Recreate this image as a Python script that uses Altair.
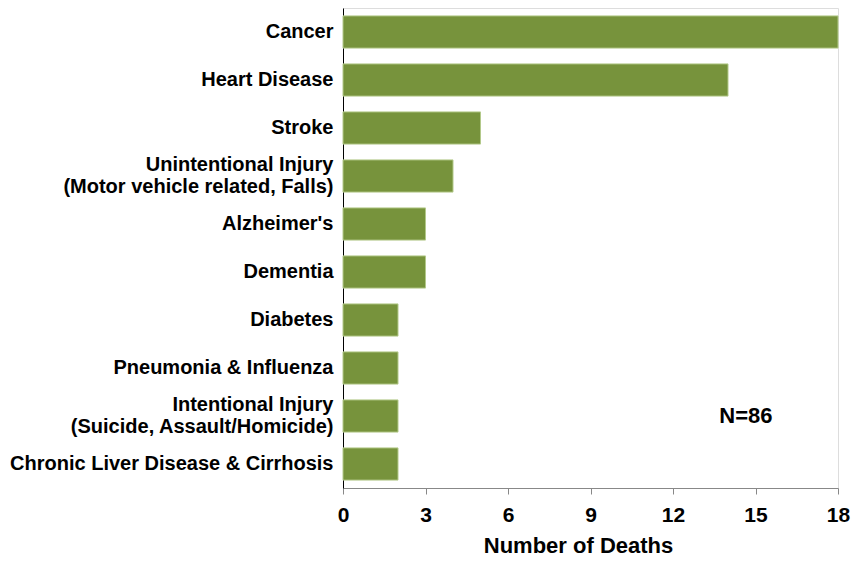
import altair as alt
import pandas as pd

causes = [
    "Cancer",
    "Heart Disease",
    "Stroke",
    "Unintentional Injury|(Motor vehicle related, Falls)",
    "Alzheimer's",
    "Dementia",
    "Diabetes",
    "Pneumonia & Influenza",
    "Intentional Injury|(Suicide, Assault/Homicide)",
    "Chronic Liver Disease & Cirrhosis",
]
deaths = [18, 14, 5, 4, 3, 3, 2, 2, 2, 2]
x_ticks = [0, 3, 6, 9, 12, 15, 18]
note_text = "N=86"
note_x = 14.65
note_cause = causes[8]

df = pd.DataFrame({"cause": causes, "deaths": deaths})
note_df = pd.DataFrame({"cause": [note_cause], "x": [note_x], "label": [note_text]})

FONT = "Liberation Sans"

y_enc = alt.Y(
    "cause:N",
    sort=causes,
    scale=alt.Scale(paddingInner=0.33, paddingOuter=0.165),
    axis=alt.Axis(
        title=None,
        ticks=False,
        domainColor="black",
        domainWidth=1,
        labelFont=FONT,
        labelFontSize=20,
        labelFontWeight="bold",
        labelColor="black",
        labelPadding=10,
        labelLineHeight=22,
        labelLimit=400,
        labelExpr="split(datum.label, '|')",
        labelOffset={"condition": {"test": "indexof(datum.value, '|') >= 0", "value": -11}, "value": 0},
    ),
)

bars = alt.Chart(df).mark_bar(color="#77933C", stroke="#B3C98A", strokeWidth=1).encode(
    x=alt.X(
        "deaths:Q",
        scale=alt.Scale(domain=[0, 18], nice=False),
        axis=alt.Axis(
            title="Number of Deaths",
            values=x_ticks,
            grid=False,
            domainColor="#888888",
            tickColor="#888888",
            tickSize=6,
            labelFlush=False,
            labelFont=FONT,
            labelFontSize=21,
            labelFontWeight="bold",
            labelColor="black",
            labelPadding=10,
            titleFont=FONT,
            titleFontSize=22,
            titleFontWeight="bold",
            titleColor="black",
            titlePadding=10,
            titleX=235,
        ),
    ),
    y=y_enc,
)

note = alt.Chart(note_df).mark_text(
    font=FONT, fontSize=22, fontWeight="bold", color="black", align="center", baseline="middle"
).encode(
    x=alt.X("x:Q"),
    y=alt.Y("cause:N", sort=causes),
    text="label:N",
)

chart = alt.layer(bars, note).properties(
    width=495,
    height=480,
    autosize=alt.AutoSizeParams(type="none"),
    padding={"left": 335, "top": 0, "right": 15, "bottom": 70},
).configure_view(stroke=None).configure(background="white")

chart.save("out.html", embed_options={"renderer": "svg", "actions": False})
